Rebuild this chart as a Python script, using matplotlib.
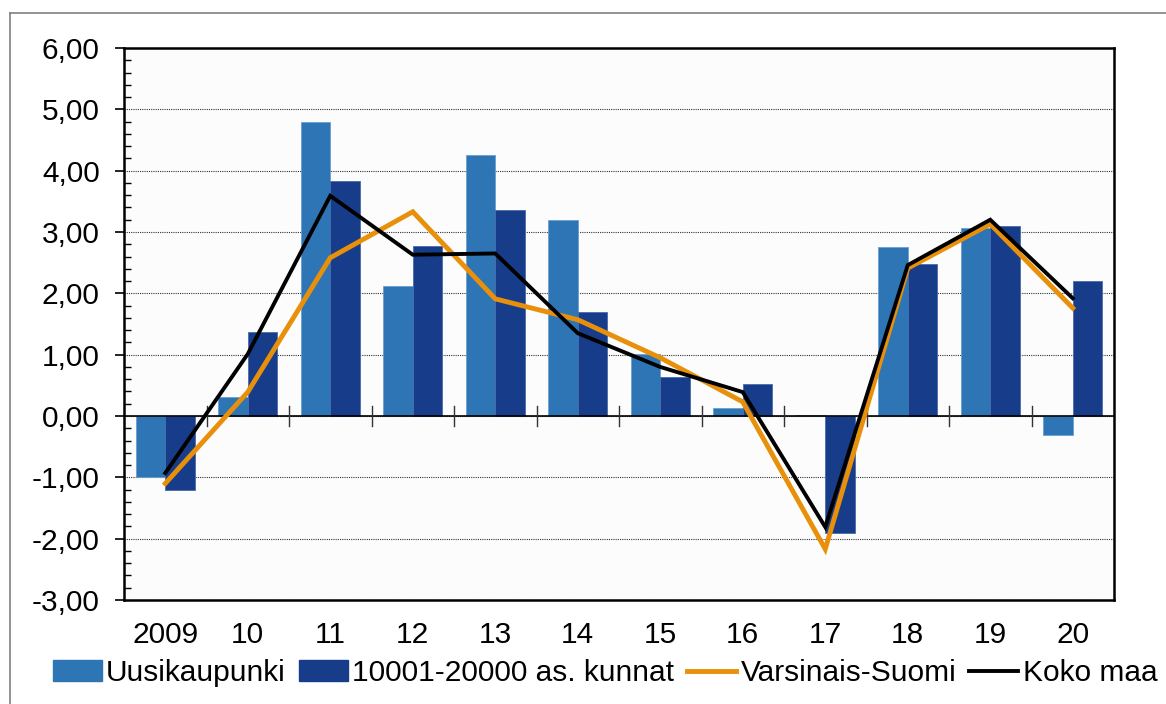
import numpy as np
import matplotlib.pyplot as plt
from matplotlib.patches import Patch
from matplotlib.lines import Line2D
from matplotlib.ticker import MultipleLocator, FuncFormatter

plt.rcParams['font.family'] = ['Liberation Sans', 'DejaVu Sans']

years = ["2009", "10", "11", "12", "13", "14", "15", "16", "17", "18", "19", "20"]
uusikaupunki = [-1.00, 0.31, 4.80, 2.12, 4.26, 3.20, 1.01, 0.13, 0.02, 2.76, 3.07, -0.31]
kunnat = [-1.21, 1.37, 3.83, 2.77, 3.36, 1.70, 0.64, 0.52, -1.91, 2.48, 3.10, 2.20]
varsinais_suomi = [-1.10, 0.39, 2.58, 3.33, 1.91, 1.57, 0.95, 0.23, -2.17, 2.41, 3.13, 1.76]
koko_maa = [-0.93, 1.01, 3.59, 2.63, 2.65, 1.35, 0.80, 0.39, -1.81, 2.46, 3.20, 1.92]

c_light = "#2E75B6"
c_dark = "#173D8A"
c_orange = "#E8900A"

fig = plt.figure(figsize=(11.66, 7.04), dpi=100)
ax = fig.add_axes([124 / 1166, 104 / 704, 990 / 1166, 552 / 704])
ax.set_facecolor("#FCFCFC")

# outer frame
fig.add_artist(Line2D([10 / 1166, 10 / 1166], [0, 1 - 13 / 704], transform=fig.transFigure, color="#808080", lw=1.2))
fig.add_artist(Line2D([10 / 1166, 1], [1 - 13 / 704, 1 - 13 / 704], transform=fig.transFigure, color="#808080", lw=1.2))

x = np.arange(len(years))
w = 0.36
ax.bar(x - w / 2, uusikaupunki, w, color=c_light, edgecolor="#6A9FD0", linewidth=0.6, zorder=2)
ax.bar(x + w / 2, kunnat, w, color=c_dark, edgecolor="#4A6AAA", linewidth=0.6, zorder=2)
ax.plot(x, varsinais_suomi, color=c_orange, lw=3.5, zorder=3, solid_joinstyle="miter")
ax.plot(x, koko_maa, color="black", lw=2.8, zorder=4, solid_joinstyle="miter")

ax.set_xlim(-0.5, len(years) - 0.5)
ax.set_ylim(-3, 6)
ax.yaxis.set_major_locator(MultipleLocator(1))
ax.yaxis.set_minor_locator(MultipleLocator(0.2))
ax.yaxis.set_major_formatter(FuncFormatter(lambda v, p: f"{v:.2f}".replace(".", ",")))
ax.tick_params(axis="y", which="major", direction="out", length=6.5, width=1.2, labelsize=21.5, pad=11)
ax.tick_params(axis="y", which="minor", direction="in", length=5, width=1.0)
ax.grid(axis="y", which="major", color="#333333", linestyle=(0, (1, 1)), linewidth=0.8, zorder=0)
ax.set_axisbelow(True)

# x ticks on zero line at category boundaries
ax.set_xticks(x)
ax.set_xticklabels(years)
ax.tick_params(axis="x", length=0, labelsize=21.5, pad=15)
ax.axhline(0, color="black", lw=1.2, zorder=2.5)
for b in np.arange(0.5, len(years) - 1, 1.0):
    ax.plot([b, b], [-0.16, 0.16], color="#333333", lw=1.0, zorder=2.5)

for s in ax.spines.values():
    s.set_linewidth(1.8)
    s.set_color("black")

handles = [
    Patch(facecolor=c_light, edgecolor=c_light),
    Patch(facecolor=c_dark, edgecolor=c_dark),
    Line2D([0], [0], color=c_orange, lw=3.5),
    Line2D([0], [0], color="black", lw=2.8),
]
labels = ["Uusikaupunki", "10001-20000 as. kunnat", "Varsinais-Suomi", "Koko maa"]
fig.legend(handles, labels, loc="center", bbox_to_anchor=(605 / 1166, 1 - 673 / 704), ncol=4,
           frameon=False, fontsize=21.5, handlelength=1.64, handleheight=0.7, handletextpad=0.15,
           columnspacing=0.43, borderaxespad=0, borderpad=0)

fig.savefig("out.png", dpi=100)
